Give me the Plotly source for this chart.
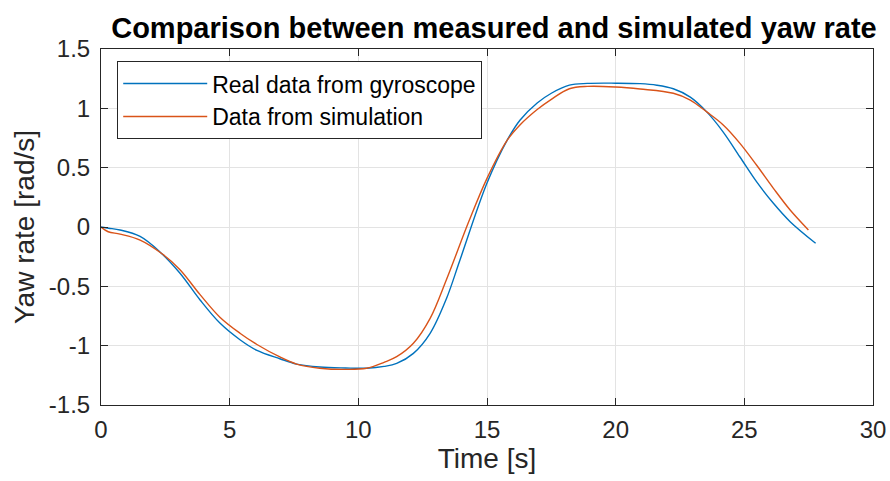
import plotly.graph_objects as go

t_real = [0, 0.3, 0.74, 1.52, 2.29, 3.07, 3.85, 4.62, 5.4, 6.06, 6.95, 7.6, 8.5, 9.5, 10.32, 11.0, 11.49,
          12.14, 12.79, 13.43, 13.95, 15.0, 15.78, 16.28, 16.95, 17.5, 18.2, 18.9, 20.0, 20.95, 21.6,
          22.24, 22.9, 23.54, 24.18, 24.83, 25.48, 26.13, 26.78, 27.77]
yaw_real = [0.0, -0.01, -0.025, -0.08, -0.21, -0.39, -0.615, -0.81, -0.95, -1.04, -1.11, -1.155, -1.18,
            -1.188, -1.19, -1.175, -1.15, -1.065, -0.896, -0.60, -0.278, 0.37, 0.73, 0.90, 1.045, 1.127,
            1.195, 1.21, 1.212, 1.208, 1.195, 1.165, 1.095, 0.97, 0.8, 0.59, 0.38, 0.2, 0.045, -0.137]

t_sim = [0, 0.28, 0.74, 1.52, 2.4, 3.07, 3.85, 4.62, 5.4, 6.06, 6.95, 7.6, 8.5, 9.55, 10.32, 11.0, 11.49,
         12.14, 12.79, 13.43, 14.3, 15.0, 15.78, 16.28, 16.95, 17.5, 18.2, 18.9, 20.0, 20.95, 22.24,
         22.9, 23.54, 24.18, 24.83, 25.48, 26.13, 26.78, 27.49]
yaw_sim = [0.0, -0.04, -0.06, -0.11, -0.23, -0.36, -0.57, -0.76, -0.895, -0.99, -1.095, -1.155, -1.19,
           -1.2, -1.19, -1.14, -1.093, -0.98, -0.77, -0.44, 0.05, 0.41, 0.73, 0.86, 0.99, 1.076,
           1.165, 1.185, 1.18, 1.163, 1.127, 1.07, 0.97, 0.86, 0.705, 0.52, 0.326, 0.143, -0.025]

x_ticks = [0, 5, 10, 15, 20, 25, 30]
y_ticks = [-1.5, -1, -0.5, 0, 0.5, 1, 1.5]
y_ticklabels = ["-1.5", "-1", "-0.5", "0", "0.5", "1", "1.5"]

FONT = "Liberation Sans, Arial, Helvetica, sans-serif"
AX = "#262626"

fig = go.Figure()
fig.add_trace(go.Scatter(x=t_real, y=yaw_real, mode="lines", name="Real data from gyroscope",
                         line=dict(color="#0072BD", width=1.4, shape="spline", smoothing=1.0)))
fig.add_trace(go.Scatter(x=t_sim, y=yaw_sim, mode="lines", name="Data from simulation",
                         line=dict(color="#D95319", width=1.4, shape="spline", smoothing=1.0)))

axis_common = dict(showline=True, linecolor=AX, linewidth=1, mirror="ticks", ticks="inside",
                   ticklen=7, tickcolor=AX, showgrid=True, gridcolor="#E3E3E3", gridwidth=1,
                   zeroline=False, automargin=False, tickfont=dict(family=FONT, size=24, color=AX))

fig.update_xaxes(range=[0, 30], tickvals=x_ticks, ticklabelstandoff=3,
                 title=dict(text="Time [s]", font=dict(family=FONT, size=28, color=AX), standoff=2),
                 **axis_common)
fig.update_yaxes(range=[-1.5, 1.5], tickvals=y_ticks, ticktext=y_ticklabels, ticklabelstandoff=5,
                 title=dict(text="Yaw rate [rad/s]", font=dict(family=FONT, size=28, color=AX), standoff=6),
                 **axis_common)

fig.update_layout(
    width=890, height=481,
    margin=dict(l=101, r=17, t=49, b=76, autoexpand=False),
    paper_bgcolor="white", plot_bgcolor="white",
    title=dict(text="<b>Comparison between measured and simulated yaw rate</b>",
               font=dict(family=FONT, size=29, color="black"),
               x=0.555, xanchor="center", y=0.942, yanchor="middle"),
    legend=dict(x=0.021, y=0.966, xanchor="left", yanchor="top", bgcolor="white",
                bordercolor="#262626", borderwidth=1, itemwidth=84,
                font=dict(family=FONT, size=23, color="black"), tracegroupgap=0),
    showlegend=True,
)

fig.write_html("out.html")
